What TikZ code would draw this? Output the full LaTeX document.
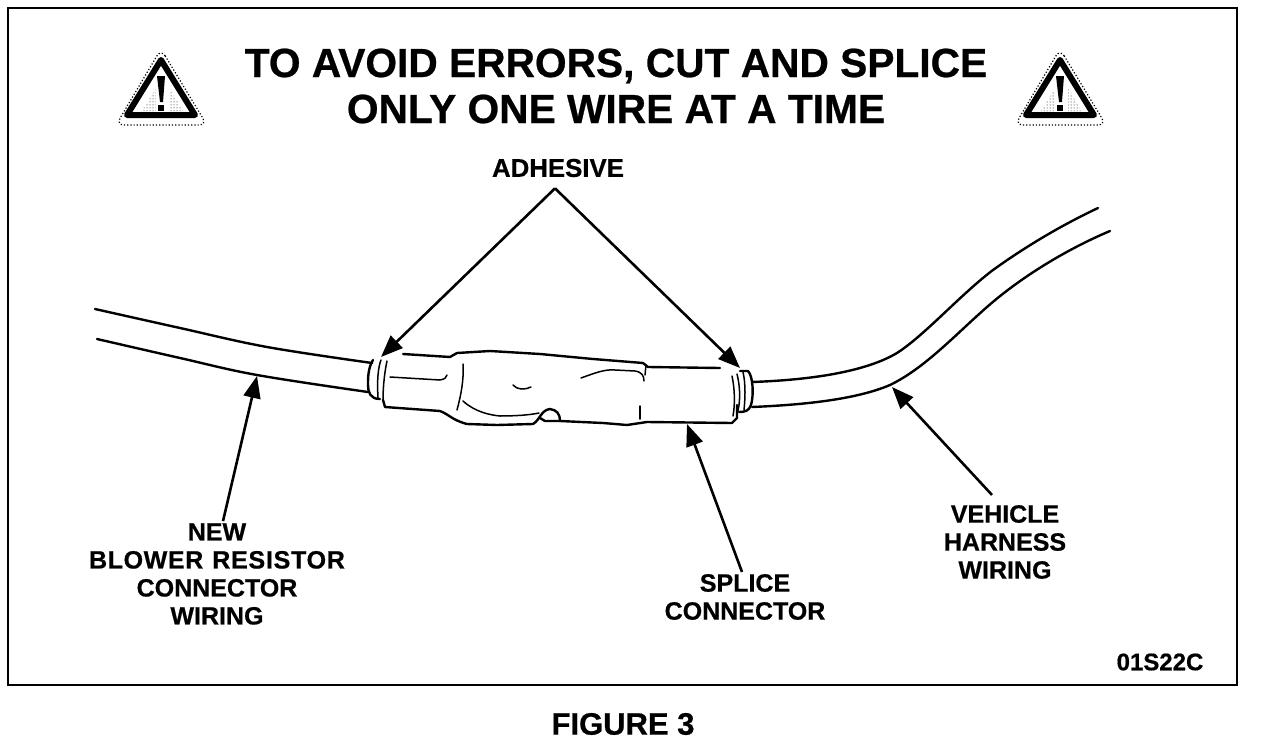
\documentclass[tikz,border=0pt]{standalone}
\usepackage{fontspec}
\setmainfont{Liberation Sans}[BoldFont={Liberation Sans Bold},BoldFeatures={FakeBold=0.6}]
\usetikzlibrary{arrows.meta,patterns}
\tikzset{
  ln/.style={draw=black,line width=2.4pt,line join=round,line cap=round},
  thin ln/.style={draw=black,line width=1.5pt,line join=round,line cap=round},
  ptr/.style={draw=black,line width=2.6pt,-{Triangle[length=22pt,width=17pt]}},
  lab/.style={font=\fontsize{25}{28}\selectfont\bfseries,align=center,inner sep=0pt,text=black},
  ttl/.style={font=\fontsize{40.7}{46}\selectfont\bfseries,align=center,inner sep=0pt,text=black},
  warn/.pic={
    \draw[line width=1.2pt,dotted,rounded corners=8pt] (-1,-15) -- (45,61) -- (-46,61) -- cycle;
    \path[pattern=dots,pattern color=black] (-6,24) -- (-20,47) -- (-6,47) -- cycle;
    \path[pattern=dots,pattern color=black] (7,24) -- (21,47) -- (7,47) -- cycle;
    \draw[line width=6pt,line join=round] (-1,-4) -- (33,51) -- (-35,51) -- cycle;
    \fill (-5,12) -- (3,12) -- (1,38) -- (-2,38) -- cycle;
    \fill (-4,41) rectangle (2,47);
  }
}
\begin{document}
\begin{tikzpicture}[x=1pt,y=-1pt]
\useasboundingbox (0,0) rectangle (1264,744);
\fill[white] (0,0) rectangle (1264,744);
\draw[line width=2pt] (8,8) rectangle (1237,685);

\pic at (162,64) {warn};
\pic at (1061,64) {warn};
\node[ttl] (title) at (616,86) {TO AVOID ERRORS, CUT AND SPLICE\\ONLY ONE WIRE AT A TIME};

\node[lab,font=\fontsize{25.8}{28}\selectfont\bfseries] (adh) at (558,168) {ADHESIVE};
\node[lab] (new) at (217,574) {NEW\\{\addfontfeature{LetterSpace=2.5}BLOWER}\hspace{9pt}{\addfontfeature{LetterSpace=3}RESISTOR}\\CONNECTOR\\WIRING};
\node[lab] (spl) at (745,597) {SPLICE\\CONNECTOR};
\node[lab] (veh) at (1005,542) {VEHICLE\\HARNESS\\WIRING};
\node[lab,font=\fontsize{24}{26}\selectfont\bfseries] (code) at (1160,662) {01S22C};
\node[lab,font=\fontsize{31}{34}\selectfont\bfseries] (fig) at (623,724) {FIGURE 3};

% wires
\draw[ln] plot[smooth,tension=0.6] coordinates {(95,309) (180,328) (267,347) (372,363)};
\draw[ln] plot[smooth,tension=0.6] coordinates {(97,339) (180,358) (257,375) (368,392)};
\draw[ln] (752,382) .. controls (810,380) and (865,372) .. (897,353) .. controls (925,335) and (960,295) .. (993,270) .. controls (1025,247) and (1060,226) .. (1098,208);
\draw[ln] (752,407) .. controls (800,405) and (855,400) .. (890,385) .. controls (925,368) and (955,335) .. (987,307) .. controls (1020,278) and (1065,250) .. (1110,231);

% splice body
\draw[ln] (403,354) -- (450,357) -- (457,353) -- (490,351) -- (540,354) -- (593,359) -- (643,363) -- (648,367) -- (720,368);
\draw[ln] (383,400) -- (385,407) -- (440,411) .. controls (450,415) and (452,420) .. (467,424) -- (497,425) -- (533,424) .. controls (540,420) and (541,410) .. (550,409) .. controls (557,410) and (560,414) .. (560,421) -- (603,423) -- (627,425) -- (647,422) -- (732,423) -- (737,418) -- (737,405);
\draw[ln] (540,418) -- (545,421) -- (560,421);
% left collar
\draw[ln] (373,360) .. controls (368,368) and (368,378) .. (368,385) .. controls (368,392) and (370,399) .. (380,399);
\draw[thin ln] (381,360) .. controls (378,368) and (377,380) .. (378,398);
\draw[thin ln] (387,361) .. controls (385,370) and (383,385) .. (383,400);
% right collar
\draw[ln] (740,371) -- (748,371) .. controls (753,376) and (754,395) .. (751,405) .. controls (749,411) and (745,412) .. (739,412);
\draw[thin ln] (732,376) .. controls (735,390) and (735,405) .. (733,416);
\draw[thin ln] (737,374) .. controls (741,390) and (740,405) .. (737,414);
\draw[thin ln] (743,372) .. controls (746,385) and (745,400) .. (744,410);
% creases
\draw[thin ln] (390,377) -- (440,380) .. controls (445,379) and (446,378) .. (447,375);
\draw[thin ln] (463,364) .. controls (464,380) and (461,395) .. (457,410);
\draw[thin ln] (463,401) .. controls (475,412) and (490,415) .. (500,416) .. controls (515,416) and (530,415) .. (539,413);
\draw[thin ln] (513,385) .. controls (517,390) and (525,390) .. (531,387);
\draw[thin ln] (581,378) .. controls (595,373) and (605,369) .. (615,370) -- (635,371) .. controls (642,372) and (644,376) .. (644,381);
\draw[thin ln] (646,365) -- (645,375);
\draw[thin ln] (640,406) -- (640,419);

% pointers
\coordinate (tipA) at (381,357);
\coordinate (tipB) at (740,368);
\coordinate (tipN) at (257,376);
\coordinate (tipS) at (687,424);
\coordinate (tipV) at (892,387);
\draw[ptr] ([xshift=-3pt,yshift=-11pt]adh.south) -- (tipA);
\draw[ptr] ([xshift=-3pt,yshift=-11pt]adh.south) -- (tipB);
\draw[ptr] ([xshift=6pt,yshift=2pt]new.north) -- (tipN);
\draw[ptr] ([xshift=-3pt,yshift=2pt]spl.north) -- (tipS);
\draw[ptr] ([xshift=-13pt,yshift=10pt]veh.north) -- (tipV);
\end{tikzpicture}
\end{document}
